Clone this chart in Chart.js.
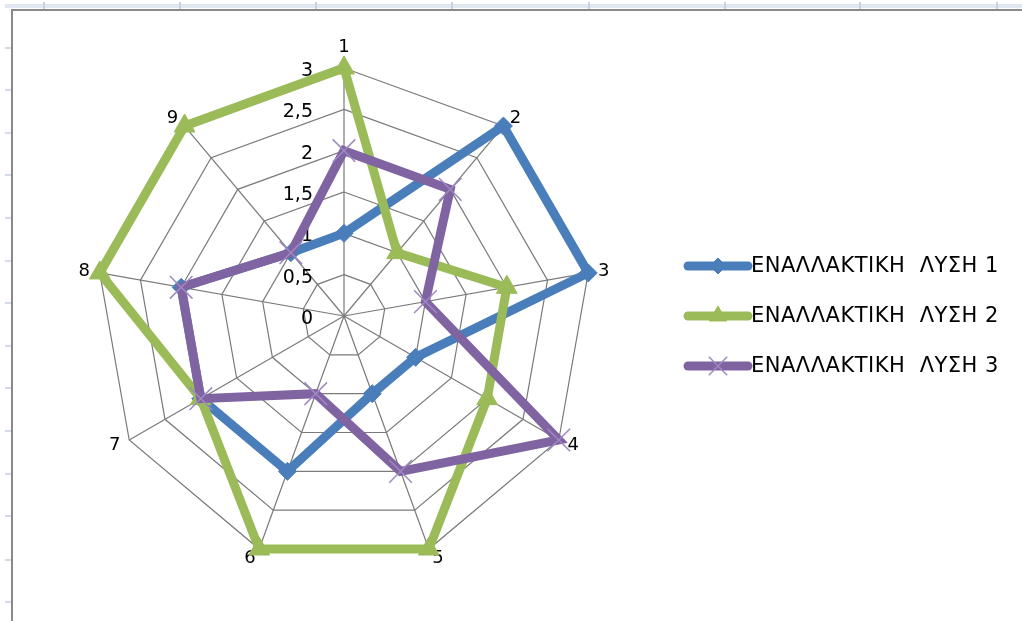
<!DOCTYPE html>
<html>
<head>
<meta charset="utf-8">
<title>Radar</title>
<script src="https://cdn.jsdelivr.net/npm/chart.js@4/dist/chart.umd.min.js"></script>
<style>
  html, body { margin: 0; padding: 0; background: #ffffff; }
  canvas { display: block; }
</style>
</head>
<body>
<canvas id="chart" width="1022" height="621"></canvas>
<script>
// Sheet guide marks around the chart object
const columnMarks = [44, 180, 316, 452, 589, 725, 860, 997];
const rowMarks = [48, 90, 133, 175, 218, 261, 303, 346, 388, 431, 474, 516, 560, 602];

// Chart data
const categories = ['1', '2', '3', '4', '5', '6', '7', '8', '9'];
const seriesNames = ['ΕΝΑΛΛΑΚΤΙΚΗ  ΛΥΣΗ 1', 'ΕΝΑΛΛΑΚΤΙΚΗ  ΛΥΣΗ 2', 'ΕΝΑΛΛΑΚΤΙΚΗ  ΛΥΣΗ 3'];
const solution1 = [1, 3, 3, 1, 1, 2, 2, 2, 1];
const solution2 = [3, 1, 2, 2, 3, 3, 2, 3, 3];
const solution3 = [2, 2, 1, 3, 2, 1, 2, 2, 1];
const tickValues = [0, 0.5, 1, 1.5, 2, 2.5, 3];
const tickLabels = ['0', '0,5', '1', '1,5', '2', '2,5', '3'];

const NUM_FONT = '18px "DejaVu Sans", sans-serif';
const TICK_FONT = '19px "DejaVu Sans", sans-serif';
const LEG_FONT = '21px "DejaVu Sans", sans-serif';

// Sheet frame behind the chart
const sheetFrame = {
  id: 'sheetFrame',
  beforeDraw(chart) {
    const ctx = chart.ctx;
    ctx.save();
    ctx.fillStyle = '#ffffff';
    ctx.fillRect(0, 0, chart.width, chart.height);
    ctx.fillStyle = '#e1e7f1';
    ctx.fillRect(5, 4, chart.width - 5, 4);
    ctx.fillStyle = '#c9d2e3';
    columnMarks.forEach(x => ctx.fillRect(x - 1, 2, 2, 7));
    ctx.fillStyle = '#d3dbe8';
    rowMarks.forEach(y => ctx.fillRect(5, y - 1, 6, 2));
    ctx.fillStyle = '#8a8a8a';
    ctx.fillRect(11, 9, chart.width - 11, 2);
    ctx.fillRect(11, 9, 2, chart.height - 9);
    ctx.restore();
  }
};

// Axis numbers and category names drawn from the radial scale
const radarText = {
  id: 'radarText',
  beforeDatasetsDraw(chart) {
    const scale = chart.scales.r;
    const ctx = chart.ctx;
    ctx.save();
    ctx.fillStyle = '#000000';
    // value labels along the first spoke
    ctx.font = TICK_FONT;
    ctx.textAlign = 'right';
    ctx.textBaseline = 'middle';
    tickValues.forEach((v, i) => {
      const d = scale.getDistanceFromCenterForValue(v);
      ctx.fillText(tickLabels[i], scale.xCenter - 31, scale.yCenter - d + 3);
    });
    // category labels outside the outer ring
    ctx.font = NUM_FONT;
    const R = scale.drawingArea;
    categories.forEach((label, i) => {
      const ang = scale.getIndexAngle(i);
      const s = Math.sin(ang), c = Math.cos(ang);
      if (c > 0.9) {
        const p = scale.getPointPosition(i, R + 16);
        ctx.textAlign = 'center';
        ctx.textBaseline = 'alphabetic';
        ctx.fillText(label, p.x, p.y);
      } else {
        const p = scale.getPointPosition(i, R + 10);
        ctx.textAlign = s > 0 ? 'left' : 'right';
        ctx.textBaseline = 'middle';
        ctx.fillText(label, p.x, p.y);
      }
    });
    ctx.restore();
  },
  afterDraw(chart) {
    const ctx = chart.ctx;
    const x0 = 688, x1 = 748, rowY = [266, 316, 366];
    ctx.save();
    chart.data.datasets.forEach((ds, i) => {
      const y = rowY[i];
      ctx.strokeStyle = ds.borderColor;
      ctx.lineWidth = ds.borderWidth;
      ctx.lineCap = 'round';
      ctx.beginPath();
      ctx.moveTo(x0, y);
      ctx.lineTo(x1, y);
      ctx.stroke();
      ctx.lineCap = 'butt';
      ctx.fillStyle = ds.pointBackgroundColor;
      ctx.strokeStyle = ds.pointBorderColor;
      ctx.lineWidth = ds.pointBorderWidth;
      Chart.helpers.drawPoint(ctx, {
        pointStyle: ds.pointStyle,
        radius: ds.legendRadius,
        rotation: 0,
        borderWidth: ds.pointBorderWidth
      }, (x0 + x1) / 2, y);
      ctx.fillStyle = '#000000';
      ctx.font = LEG_FONT;
      ctx.letterSpacing = '0.5px';
      ctx.textAlign = 'left';
      ctx.textBaseline = 'middle';
      ctx.fillText(ds.label, x1 + 3, y + 1);
      ctx.letterSpacing = '0px';
    });
    ctx.restore();
  }
};

const blue = '#4a7ebb', green = '#9bbb59', purple = '#8064a2';

new Chart(document.getElementById('chart'), {
  type: 'radar',
  data: {
    labels: categories,
    datasets: [
      {
        label: seriesNames[0], data: solution1, order: 2,
        borderColor: blue, borderWidth: 9, fill: false, tension: 0,
        pointStyle: 'rectRot', pointRadius: 9, legendRadius: 8,
        pointBackgroundColor: blue, pointBorderColor: blue, pointBorderWidth: 1
      },
      {
        label: seriesNames[1], data: solution2, order: 1,
        borderColor: green, borderWidth: 9, fill: false, tension: 0,
        pointStyle: 'triangle', pointRadius: 12, legendRadius: 10,
        pointBackgroundColor: green, pointBorderColor: green, pointBorderWidth: 1
      },
      {
        label: seriesNames[2], data: solution3, order: 0,
        borderColor: purple, borderWidth: 9, fill: false, tension: 0,
        pointStyle: 'crossRot', pointRadius: 16, legendRadius: 13,
        pointBackgroundColor: purple, pointBorderColor: '#9d88c2', pointBorderWidth: 1.5
      }
    ]
  },
  options: {
    responsive: false,
    animation: false,
    devicePixelRatio: 1,
    layout: { padding: { left: 96, right: 430, top: 68, bottom: 57 } },
    plugins: { legend: { display: false }, tooltip: { enabled: false } },
    elements: { line: { borderJoinStyle: 'miter' } },
    scales: {
      r: {
        min: 0, max: 3,
        ticks: { stepSize: 0.5, display: false },
        pointLabels: { display: false },
        grid: { color: '#7a7a7a', lineWidth: 1.2, circular: false },
        angleLines: { color: '#7a7a7a', lineWidth: 1.2 }
      }
    }
  },
  plugins: [sheetFrame, radarText]
});
</script>
</body>
</html>
